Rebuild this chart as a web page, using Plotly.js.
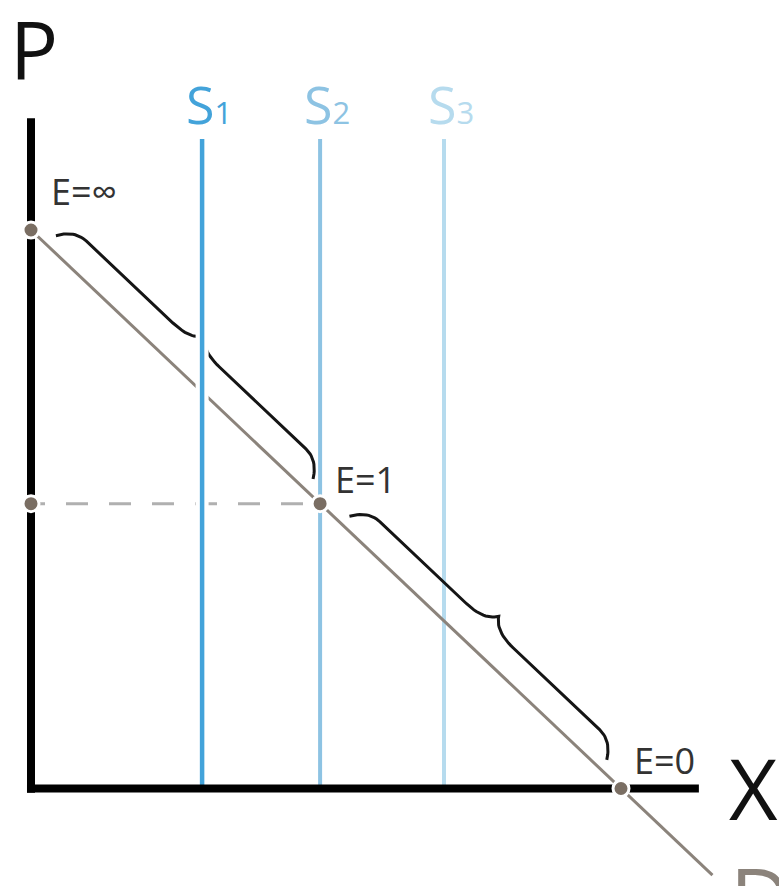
<!DOCTYPE html>
<html>
<head>
<meta charset="utf-8">
<script src="https://cdn.plot.ly/plotly-3.0.1.min.js"></script>
<style>html,body{margin:0;padding:0;background:#fff;}#chart{width:779px;height:886px;}</style>
</head>
<body>
<div id="chart"></div>
<script>
// ---- data ----
const demandX = [0, 11.55];          // demand line D
const demandP = [10, -1.55];
const pointX = [0, 0, 4.9, 10];      // E=∞, price point on P-axis, E=1, E=0
const pointP = [10, 5.1, 5.1, 0];
const elasticityLabels = ['E=∞', 'E=1', 'E=0'];
const elasticityIdx = [0, 2, 3];
const supplyX = [2.9, 4.9, 7.0];     // vertical supply lines
const supplyNames = ['S', 'S', 'S'];
const supplySubs = ['1', '2', '3'];
const supplyTop = 11.63;
const axisTopP = 12.0;
const axisEndX = 11.32;
const axisNames = ['P', 'X', 'D'];

// ---- layout geometry ----
const W = 779, H = 886;
const xr = [-0.5254, 12.678];
const yr = [-1.746, 14.118];
const kx = W / (xr[1] - xr[0]);
const ky = H / (yr[1] - yr[0]);

const supplyColors = ['#43a3da', '#8dc3e3', '#b6dbee'];
const supplyWidths = [4.5, 4, 4];

// curly brace between two points on D (built in pixel space, converted to data)
function brace(x0, y0, x1, y1, trim, h0, a, t) {
  const ax = x0 * kx, ay = y0 * ky, bx = x1 * kx, by = y1 * ky;
  const len = Math.hypot(bx - ax, by - ay);
  const ux = (bx - ax) / len, uy = (by - ay) / len;
  const nx = -uy, ny = ux;
  const L = len - 2 * trim, m = L / 2;
  const pts = [];
  function quad(p0, c, p1) {
    for (let i = 0; i <= 14; i++) {
      const s = i / 14;
      pts.push([(1 - s) * (1 - s) * p0[0] + 2 * (1 - s) * s * c[0] + s * s * p1[0],
                (1 - s) * (1 - s) * p0[1] + 2 * (1 - s) * s * c[1] + s * s * p1[1]]);
    }
  }
  quad([0, h0], [10, a], [26, a]);
  quad([m - 32, a], [m - 8, a], [m, t]);
  quad([m, t], [m + 8, a], [m + 32, a]);
  quad([L - 26, a], [L - 10, a], [L, h0]);
  const xs = [], ys = [];
  pts.forEach(p => {
    const s = p[0] + trim, h = p[1];
    xs.push((ax + s * ux + h * nx) / kx);
    ys.push((ay + s * uy + h * ny) / ky);
  });
  return {xs, ys};
}

const traces = [];
// S2, S3 under the demand line
for (let i = 1; i < supplyX.length; i++) {
  traces.push({x: [supplyX[i], supplyX[i]], y: [0, supplyTop], mode: 'lines',
    line: {color: supplyColors[i], width: supplyWidths[i]}, hoverinfo: 'skip'});
}
// demand line
traces.push({x: demandX, y: demandP, mode: 'lines', line: {color: '#8b837b', width: 3}, hoverinfo: 'skip'});
// dashed price line
traces.push({x: [pointX[1], pointX[2]], y: [pointP[1], pointP[2]], mode: 'lines',
  line: {color: '#b0b0b0', width: 3, dash: '14px,21px,22px,21px,22px,21px,22px,21px,22px,21px,22px,21px,22px,21px'}, hoverinfo: 'skip'});
// braces
const b1 = brace(pointX[0], pointP[0], pointX[2], pointP[2], 22, 13, 30, 42);
const b2 = brace(pointX[2], pointP[2], pointX[3], pointP[3], 30, 11, 28, 41);
[b1, b2].forEach(b => traces.push({x: b.xs, y: b.ys, mode: 'lines',
  line: {color: '#151515', width: 3}, hoverinfo: 'skip'}));
// S1 with white halo on top
traces.push({x: [supplyX[0], supplyX[0]], y: [0, supplyTop], mode: 'lines',
  line: {color: '#ffffff', width: 13}, hoverinfo: 'skip'});
traces.push({x: [supplyX[0], supplyX[0]], y: [0, supplyTop], mode: 'lines',
  line: {color: supplyColors[0], width: supplyWidths[0]}, hoverinfo: 'skip'});
// axes
traces.push({x: [0, 0], y: [-0.075, axisTopP], mode: 'lines', line: {color: '#000', width: 8}, hoverinfo: 'skip'});
traces.push({x: [-0.068, axisEndX], y: [0, 0], mode: 'lines', line: {color: '#000', width: 8}, hoverinfo: 'skip'});
// points
traces.push({x: pointX, y: pointP, mode: 'markers',
  marker: {color: '#7a6e63', size: 16, line: {color: '#ffffff', width: 3}}, hoverinfo: 'skip'});

const annotations = [];
const font = '"Open Sans", "Noto Sans", sans-serif';
supplyX.forEach((sx, i) => {
  annotations.push({x: sx, y: 12.26, xref: 'x', yref: 'y', xanchor: 'center', yanchor: 'middle',
    xshift: 7, showarrow: false,
    text: supplyNames[i] + '<span style="font-size:31px">' + supplySubs[i] + '</span>',
    font: {family: font, size: 52, color: supplyColors[i]}});
});
const eShift = [[18, 38], [13, 24], [11, 28]];
elasticityIdx.forEach((pi, i) => {
  annotations.push({x: pointX[pi], y: pointP[pi], xref: 'x', yref: 'y', xanchor: 'left', yanchor: 'middle',
    xshift: eShift[i][0], yshift: eShift[i][1], showarrow: false, text: elasticityLabels[i],
    font: {family: font, size: 36, color: '#333333'}});
});
annotations.push({x: 0.05, y: 13.25, xref: 'x', yref: 'y', xanchor: 'center', yanchor: 'middle', showarrow: false,
  text: axisNames[0], font: {family: font, size: 80, color: '#111'}});
annotations.push({x: 12.25, y: 0.01, xref: 'x', yref: 'y', xanchor: 'center', yanchor: 'middle', showarrow: false,
  text: axisNames[1], font: {family: font, size: 84, color: '#111'}});
annotations.push({x: 11.82, y: -0.87, xref: 'x', yref: 'y', xanchor: 'left', yanchor: 'top', showarrow: false,
  text: axisNames[2], font: {family: font, size: 84, color: '#8b837b'}});

const layout = {
  width: W, height: H,
  margin: {l: 0, r: 0, t: 0, b: 0, pad: 0},
  paper_bgcolor: '#ffffff', plot_bgcolor: '#ffffff',
  showlegend: false,
  xaxis: {range: xr, visible: false, fixedrange: true},
  yaxis: {range: yr, visible: false, fixedrange: true},
  annotations: annotations
};
Plotly.newPlot('chart', traces, layout, {staticPlot: true, displayModeBar: false});
</script>
</body>
</html>
